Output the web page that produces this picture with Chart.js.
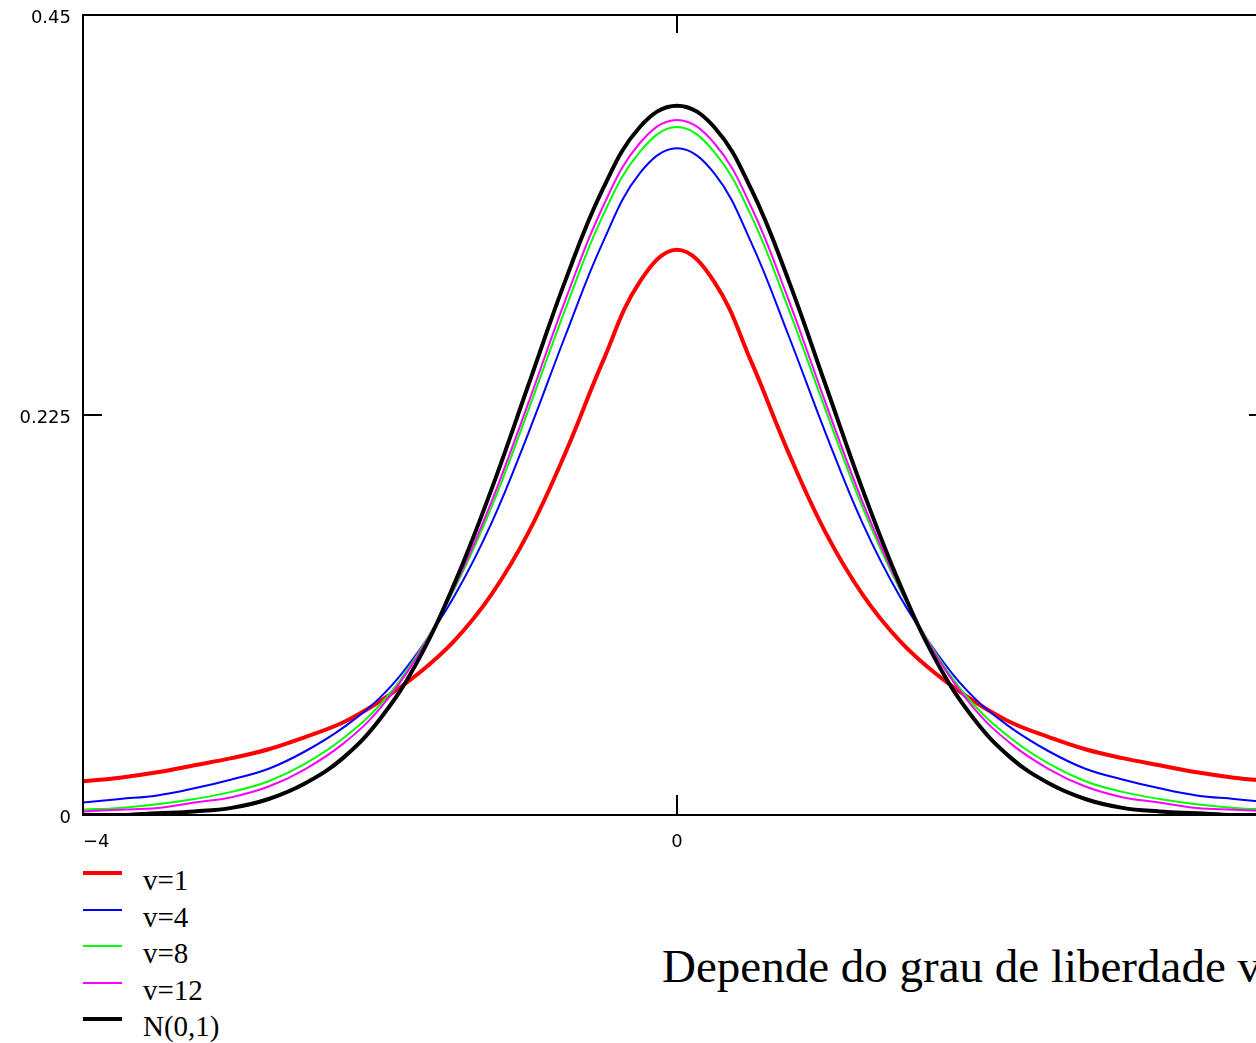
<!DOCTYPE html>
<html>
<head>
<meta charset="utf-8">
<script src="https://cdn.jsdelivr.net/npm/chart.js@4/dist/chart.umd.min.js"></script>
<style>
  html, body { margin:0; padding:0; background:#fff; overflow:hidden; width:1256px; height:1043px; }
  #wrap { position:absolute; left:0; top:0; width:1272px; height:860px; }
  #legend { position:absolute; left:0; top:0; }
  .row { position:absolute; left:0; height:29px; }
  .swatch { position:absolute; left:83px; width:39px; }
  .lbl { position:absolute; left:143px; top:0; font:29px/29px "Liberation Serif", "Times New Roman", serif; color:#000; white-space:nowrap; }
  #caption { position:absolute; left:662px; top:943px; font:47px/47px "Liberation Serif", "Times New Roman", serif; color:#000; white-space:nowrap; }
</style>
</head>
<body>
<div id="wrap"><canvas id="chart" width="1272" height="860"></canvas></div>
<div id="legend"></div>
<div id="caption">Depende do grau de liberdade v</div>
<script>
// ============================
// DATA
// ============================
const xs = [-4,-3.75,-3.5,-3.25,-3,-2.75,-2.5,-2.25,-2,-1.75,-1.5,-1.25,-1,-0.75,-0.5,-0.25,0,
            0.25,0.5,0.75,1,1.25,1.5,1.75,2,2.25,2.5,2.75,3,3.25,3.5,3.75,4];

const v1  = [.019,.021,.024,.028,.032,.037,.044,.052,.064,.079,.098,.124,.159,.204,.255,.300,.318,
             .300,.255,.204,.159,.124,.098,.079,.064,.052,.044,.037,.032,.028,.024,.021,.019];
const v4  = [.007,.009,.011,.015,.020,.026,.036,.049,.066,.091,.123,.164,.215,.270,.322,.361,.375,
             .361,.322,.270,.215,.164,.123,.091,.066,.049,.036,.026,.020,.015,.011,.009,.007];
const v8  = [.003,.004,.006,.009,.013,.019,.029,.043,.062,.090,.127,.173,.228,.285,.337,.373,.387,
             .373,.337,.285,.228,.173,.127,.090,.062,.043,.029,.019,.013,.009,.006,.004,.003];
const v12 = [.002,.003,.004,.007,.010,.016,.026,.040,.060,.089,.128,.176,.232,.290,.342,.378,.391,
             .378,.342,.290,.232,.176,.128,.089,.060,.040,.026,.016,.010,.007,.004,.003,.002];
const n01 = [.000,.000,.001,.002,.004,.009,.018,.032,.054,.086,.130,.183,.242,.301,.352,.387,.399,
             .387,.352,.301,.242,.183,.130,.086,.054,.032,.018,.009,.004,.002,.001,.000,.000];

const seriesNames  = ["v=1","v=4","v=8","v=12","N(0,1)"];
const seriesValues = [v1, v4, v8, v12, n01];
const seriesColors = ["#ff0000","#0000ff","#00ff00","#ff00ff","#000000"];
const seriesWidths = [4, 2, 2, 2, 4];

const xTicks = [-4, 0, 4];
const xTickLabels = ["\u22124", "0", ""];   // the "4" falls outside the cropped picture
const yTicks = [0, 0.225, 0.45];
const yTickLabels = ["0", "0.225", "0.45"];

// ============================
// FRAME + INWARD TICKS
// ============================
const framePlugin = {
  id: "frame",
  afterDatasetsDraw(chart){
    const {ctx, chartArea:a, scales:{x, y}} = chart;
    ctx.save();
    ctx.strokeStyle = "#000";
    ctx.lineWidth = 2;
    ctx.strokeRect(a.left, a.top, a.right - a.left, a.bottom - a.top);
    xTicks.slice(1, -1).forEach(v => {
      const px = Math.round(x.getPixelForValue(v));
      ctx.beginPath();
      ctx.moveTo(px, a.top); ctx.lineTo(px, a.top + 18);
      ctx.moveTo(px, a.bottom); ctx.lineTo(px, a.bottom - 20);
      ctx.stroke();
    });
    yTicks.slice(1, -1).forEach(v => {
      const py = Math.round(y.getPixelForValue(v));
      ctx.beginPath();
      ctx.moveTo(a.left, py); ctx.lineTo(a.left + 19, py);
      ctx.moveTo(a.right, py); ctx.lineTo(a.right - 22, py);
      ctx.stroke();
    });
    ctx.restore();
  }
};

// ============================
// CHART
// ============================
const datasets = seriesNames.map((name, i) => ({
  label: name,
  data: xs.map((xv, j) => ({x: xv, y: seriesValues[i][j]})),
  borderColor: seriesColors[i],
  borderWidth: seriesWidths[i],
  pointRadius: 0,
  fill: false,
  tension: 0.4,
  order: seriesNames.length - 1 - i
}));

const tickFont = {family: "'DejaVu Sans', sans-serif", size: 18};

new Chart(document.getElementById("chart").getContext("2d"), {
  type: "line",
  data: { datasets },
  options: {
    responsive: false,
    animation: false,
    layout: { padding: { top: 15, right: 1, left: 0, bottom: 0 } },
    plugins: { legend: { display: false }, tooltip: { enabled: false } },
    scales: {
      x: {
        type: "linear", min: -4, max: 4,
        grid: { display: false, drawTicks: false },
        border: { display: false },
        afterBuildTicks: s => { s.ticks = xTicks.map(v => ({value: v})); },
        afterFit: s => { s.height = 45; s.paddingLeft = 0; s.paddingRight = 0; },
        ticks: {
          font: tickFont, color: "#000", padding: 17, align: "inner", maxRotation: 0,
          callback: v => xTickLabels[xTicks.indexOf(v)]
        }
      },
      y: {
        min: 0, max: 0.45,
        grid: { display: false, drawTicks: false },
        border: { display: false },
        afterBuildTicks: s => { s.ticks = yTicks.map(v => ({value: v})); },
        afterFit: s => { s.width = 83; s.paddingTop = 0; s.paddingBottom = 0; },
        ticks: {
          font: tickFont, color: "#000", padding: 12, labelOffset: 3,
          callback: v => yTickLabels[yTicks.indexOf(v)]
        }
      }
    }
  },
  plugins: [framePlugin]
});

// ============================
// LEGEND (bottom left)
// ============================
const legendEl = document.getElementById("legend");
seriesNames.forEach((name, i) => {
  const top = 866 + i * 36.6;
  const row = document.createElement("div");
  row.className = "row";
  row.style.top = top + "px";
  const sw = document.createElement("div");
  sw.className = "swatch";
  sw.style.top = (7 - seriesWidths[i] / 2) + "px";
  sw.style.height = seriesWidths[i] + "px";
  sw.style.background = seriesColors[i];
  const lb = document.createElement("span");
  lb.className = "lbl";
  lb.textContent = name;
  row.appendChild(sw);
  row.appendChild(lb);
  legendEl.appendChild(row);
});
</script>
</body>
</html>
